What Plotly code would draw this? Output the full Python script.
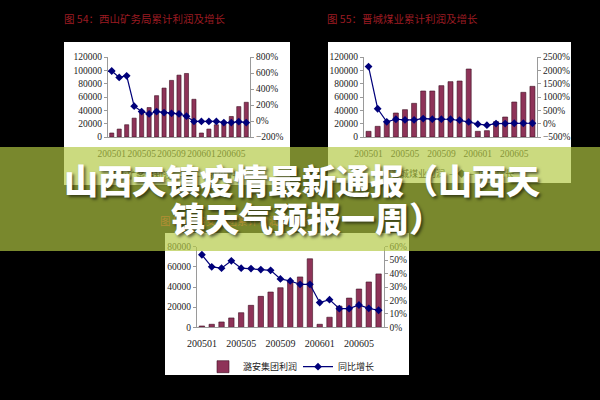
import plotly.graph_objects as go

W, H = 600, 400

# ---------------- data ----------------
months = ["200501", "200502", "200503", "200504", "200505", "200506", "200507",
          "200508", "200509", "200510", "200511", "200512", "200601", "200602",
          "200603", "200604", "200605", "200606", "200607"]
tick_labels = ["200501", "200505", "200509", "200601", "200605"]

xishan_profit = [6000, 11900, 18400, 28300, 38200, 44200, 62000, 73400, 84900, 92800,
                 95300, 56600, 6000, 11900, 18400, 22000, 30800, 45600, 52100]
xishan_growth = [625, 545, 565, 185, 118, 88, 118, 105, 96, 88,
                 60, -5, -5, -5, -5, -20, -20, -8, -20]

jincheng_profit = [8500, 16000, 23000, 36000, 41000, 50500, 69000, 69000, 77000, 83000,
                   84000, 102000, 8500, 9500, 23000, 30000, 52500, 67000, 76000]
jincheng_growth = [2140, 560, 70, 165, 142, 142, 190, 168, 168, 165,
                   130, 67, -20, -55, 4, 4, 16, 16, 16]

luan_profit = [1300, 3000, 5300, 9300, 14500, 21800, 30700, 35000, 39300, 45000,
               50000, 68000, 3000, 10000, 21000, 29000, 38000, 45000, 53000]
luan_growth = [54, 45, 44, 49.5, 44, 43.7, 43, 42.4, 36, 34.5,
               32, 32, 18.4, 20.6, 13.9, 13.9, 16.6, 14.1, 12.7]

titles = ["图 54：西山矿务局累计利润及增长", "图 55：晋城煤业累计利润及增长", "图 56：潞安集团累计利润及增长"]
legend_names = [("西山矿务局利润", "同比增长"), ("晋城煤业利润", "同比增长"), ("潞安集团利润", "同比增长")]
headline = ["山西天镇疫情最新通报（山西天", "镇天气预报一周）"]

# ---------------- styles ----------------
BAR = "#8e3358"
BAR_EDGE = "#3c0f22"
LINE = "#00007a"
SERIF = "Liberation Serif, Times New Roman, serif"
CJK = "Noto Sans CJK SC"


def px_x(p):
    return p / W


def px_y(p):
    return 1 - p / H


fig = go.Figure()

series = [
    (xishan_profit, xishan_growth, "x", "y", "y2"),
    (jincheng_profit, jincheng_growth, "x2", "y3", "y4"),
    (luan_profit, luan_growth, "x3", "y5", "y6"),
]
for i, (prof, grow, xa, ya, ya2) in enumerate(series):
    fig.add_trace(go.Bar(x=months, y=prof, xaxis=xa, yaxis=ya, name=legend_names[i][0],
                         marker=dict(color=BAR, line=dict(color=BAR_EDGE, width=0.6)),
                         width=0.55, showlegend=(i == 2)))
    fig.add_trace(go.Scatter(x=months, y=grow, xaxis=xa, yaxis=ya2, name=legend_names[i][1],
                             mode="lines+markers",
                             line=dict(color=LINE, width=1.2),
                             marker=dict(symbol="diamond", size=6, color=LINE),
                             showlegend=(i == 2)))

tickfont = dict(family=SERIF, size=9.5, color="#222")


def xaxis(domain, anchor, size=9.5, standoff=8):
    return dict(domain=domain, anchor=anchor, type="category", range=[-0.5, 18.5],
                tickvals=tick_labels, ticktext=tick_labels, ticks="", tickangle=0,
                ticklabelstandoff=standoff,
                showline=True, linecolor="#9a9a9a", linewidth=1,
                showgrid=False, zeroline=False, automargin=False,
                tickfont=dict(family=SERIF, size=size, color="#222"), fixedrange=True)


def yaxis(domain, anchor, rng, dtick, side="left", overlay=None, suffix=""):
    d = dict(anchor=anchor, range=rng, dtick=dtick, side=side, tickformat="d",
             ticksuffix=suffix, showline=True, linecolor="#9a9a9a", linewidth=1,
             ticks="outside", ticklen=3, tickcolor="#9a9a9a", automargin=False,
             showgrid=False, zeroline=False, tickfont=tickfont, fixedrange=True)
    if overlay:
        d["overlaying"] = overlay
    else:
        d["domain"] = domain
    return d


d1x = [px_x(108), px_x(250)]
d2x = [px_x(364), px_x(537)]
d3x = [px_x(197), px_x(383.5)]
dtop = [px_y(137), px_y(57)]
dbot = [px_y(327.3), px_y(246.7)]

# panels (white backgrounds)
shapes = []
for (x0, y0, x1, y1) in [(64, 42, 290, 185), (328, 42, 571, 183), (165, 233, 409, 375)]:
    shapes.append(dict(type="rect", xref="paper", yref="paper", layer="below",
                       x0=px_x(x0), x1=px_x(x1), y0=px_y(y1), y1=px_y(y0),
                       fillcolor="white", line=dict(width=0)))
# translucent green banner
shapes.append(dict(type="rect", xref="paper", yref="paper", layer="above",
                   x0=0, x1=1, y0=px_y(251), y1=px_y(147),
                   fillcolor="rgba(178,200,66,0.68)", line=dict(width=0)))


def note(text, x, y, font, xanchor="left"):
    return dict(text=text, x=px_x(x), y=px_y(y), xref="paper", yref="paper",
                xanchor=xanchor, yanchor="middle", showarrow=False, font=font)


headfont = dict(family=CJK, size=34, color="white", weight=900,
                shadow="2px 2px 3px rgba(0,0,0,0.55)")
annotations = [
    note(titles[0], 62, 18, dict(family=CJK, size=10.5, color="#9b1b22")),
    note(titles[1], 325, 18, dict(family=CJK, size=10.5, color="#9b1b22")),
    # items seen through the banner
    note(titles[2], 158, 220, dict(family=CJK, size=10.5, color="rgb(178,142,52)")),
    note(legend_names[0][0] + "  —◆—  " + legend_names[0][1], 175, 176,
         dict(family=CJK, size=9, color="rgb(122,138,46)"), xanchor="center"),
    note(legend_names[1][0] + "  —◆—  " + legend_names[1][1], 452, 173,
         dict(family=CJK, size=9, color="rgb(122,138,46)"), xanchor="center"),
    # headline
    note(headline[0], 302, 180, headfont, xanchor="center"),
    note(headline[1], 307, 217, headfont, xanchor="center"),
]

fig.update_layout(
    width=W, height=H, autosize=False,
    margin=dict(l=0, r=0, t=0, b=0, pad=0, autoexpand=False),
    paper_bgcolor="black", plot_bgcolor="white",
    xaxis=xaxis(d1x, "y"),
    yaxis=yaxis(dtop, "x", [0, 120000], 20000),
    yaxis2=yaxis(dtop, "x", [-200, 800], 200, side="right", overlay="y", suffix="%"),
    xaxis2=xaxis(d2x, "y3"),
    yaxis3=yaxis(dtop, "x2", [0, 120000], 20000),
    yaxis4=yaxis(dtop, "x2", [-500, 2500], 500, side="right", overlay="y3", suffix="%"),
    xaxis3=xaxis(d3x, "y5", size=10, standoff=7),
    yaxis5=yaxis(dbot, "x3", [0, 80000], 20000),
    yaxis6=yaxis(dbot, "x3", [0, 60], 10, side="right", overlay="y5", suffix="%"),
    legend=dict(orientation="h", x=px_x(203), xanchor="left", y=px_y(366.7), yanchor="middle",
                font=dict(family=CJK, size=9, color="#222"), bgcolor="rgba(0,0,0,0)",
                itemwidth=30, tracegroupgap=0, entrywidth=50),
    shapes=shapes,
    annotations=annotations,
    showlegend=True,
)

fig.write_html("out.html", config={"displayModeBar": False},
               post_script="document.body.style.margin='0';")
